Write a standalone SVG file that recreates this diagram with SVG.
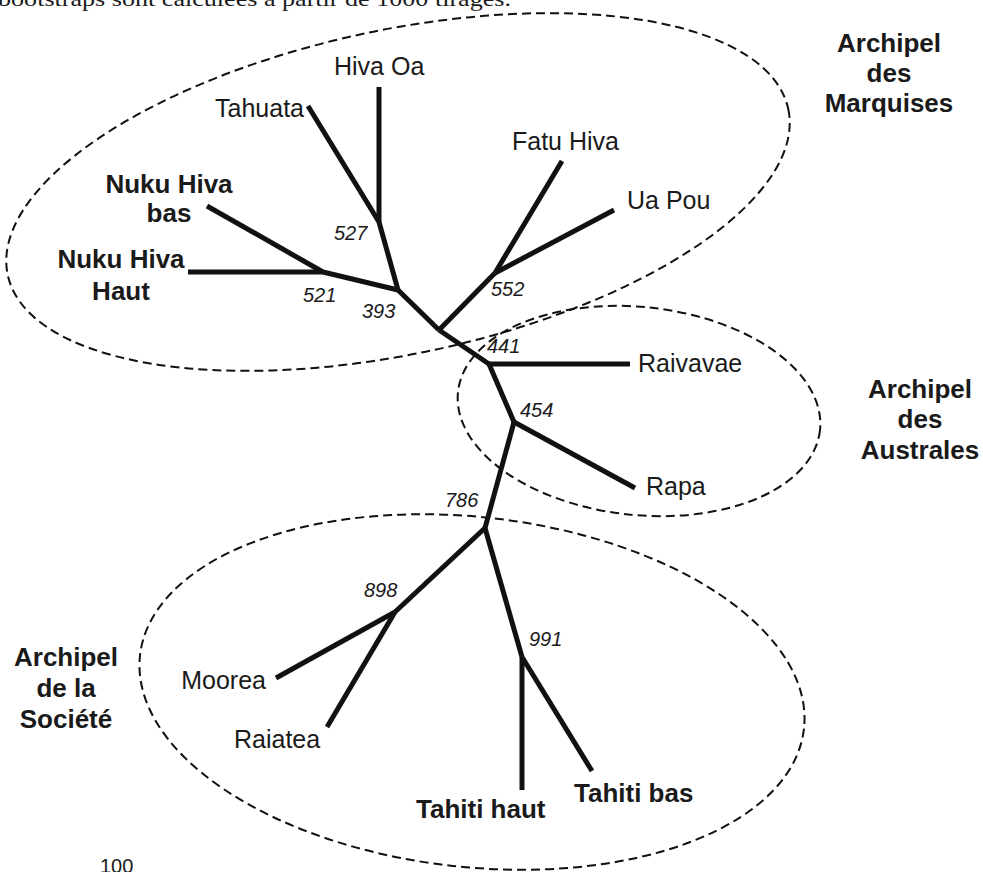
<svg xmlns="http://www.w3.org/2000/svg" width="983" height="872" viewBox="0 0 983 872">
  <style>
    .bg { fill: #ffffff; }
    .branch { stroke: #111111; stroke-width: 5; fill: none; stroke-linecap: butt; stroke-linejoin: round; }
    .clade { stroke: #111111; stroke-width: 2; fill: none; stroke-dasharray: 9 5; }
    .leaf { font-family: "Liberation Sans", Arial, sans-serif; font-size: 25px; fill: #1a1a1a; }
    .leafb { font-family: "Liberation Sans", Arial, sans-serif; font-size: 26px; font-weight: bold; fill: #1a1a1a; }
    .boot { font-family: "Liberation Sans", Arial, sans-serif; font-size: 20px; font-style: italic; fill: #1a1a1a; }
    .title { font-family: "Liberation Sans", Arial, sans-serif; font-size: 26px; font-weight: bold; fill: #1a1a1a; text-anchor: middle; }
    .caption { font-family: "Liberation Serif", "Times New Roman", serif; font-size: 22px; fill: #1a1a1a; }
    .scale { font-family: "Liberation Sans", Arial, sans-serif; font-size: 20px; fill: #1a1a1a; }
  </style>

  <rect class="bg" x="0" y="0" width="983" height="872"/>

  <!-- caption line above the tree (only its lower part falls inside the frame) -->
  <text class="caption" x="-2" y="6" textLength="513" lengthAdjust="spacingAndGlyphs">bootstraps sont calculées à partir de 1000 tirages.</text>

  <!-- clade outlines -->
  <g id="clade-marquises">
    <ellipse class="clade" cx="398" cy="192" rx="399" ry="162" transform="rotate(-12 398 192)"/>
    <text class="title" x="889" y="52">Archipel</text>
    <text class="title" x="889" y="82">des</text>
    <text class="title" x="889" y="112">Marquises</text>
  </g>
  <g id="clade-australes">
    <ellipse class="clade" cx="639" cy="411" rx="182" ry="104" transform="rotate(6 639 411)"/>
    <text class="title" x="920" y="398">Archipel</text>
    <text class="title" x="920" y="428">des</text>
    <text class="title" x="920" y="459">Australes</text>
  </g>
  <g id="clade-societe">
    <ellipse class="clade" cx="472" cy="692" rx="334" ry="175" transform="rotate(6.3 472 692)"/>
    <text class="title" x="66" y="666">Archipel</text>
    <text class="title" x="66" y="697">de la</text>
    <text class="title" x="66" y="728">Société</text>
  </g>

  <!-- branches of the unrooted tree -->
  <g id="branches">
    <path class="branch" d="M379 87 L379 222"/>
    <path class="branch" d="M308 106 L379 222"/>
    <path class="branch" d="M379 222 L398 290"/>
    <path class="branch" d="M207 206 L323 272"/>
    <path class="branch" d="M188 272 L323 272"/>
    <path class="branch" d="M323 272 L398 290"/>
    <path class="branch" d="M398 290 L439 330"/>
    <path class="branch" d="M439 330 L495 273"/>
    <path class="branch" d="M495 273 L562 161"/>
    <path class="branch" d="M495 273 L614 210"/>
    <path class="branch" d="M439 330 L489 364"/>
    <path class="branch" d="M489 364 L630 364"/>
    <path class="branch" d="M489 364 L514 422"/>
    <path class="branch" d="M514 422 L635 488"/>
    <path class="branch" d="M514 422 L485 528"/>
    <path class="branch" d="M485 528 L395 612"/>
    <path class="branch" d="M395 612 L276 678"/>
    <path class="branch" d="M395 612 L327 727"/>
    <path class="branch" d="M485 528 L522 657"/>
    <path class="branch" d="M522 657 L522 790"/>
    <path class="branch" d="M522 657 L592 771"/>
  </g>

  <!-- leaves -->
  <g id="leaf-hiva-oa"><text class="leaf" x="334" y="75">Hiva Oa</text></g>
  <g id="leaf-tahuata"><text class="leaf" x="304" y="117" text-anchor="end">Tahuata</text></g>
  <g id="leaf-nuku-hiva-bas">
    <text class="leafb" x="169" y="193" text-anchor="middle">Nuku Hiva</text>
    <text class="leafb" x="169" y="222" text-anchor="middle">bas</text>
  </g>
  <g id="leaf-nuku-hiva-haut">
    <text class="leafb" x="121" y="268" text-anchor="middle">Nuku Hiva</text>
    <text class="leafb" x="121" y="300" text-anchor="middle">Haut</text>
  </g>
  <g id="leaf-fatu-hiva"><text class="leaf" x="512" y="150">Fatu Hiva</text></g>
  <g id="leaf-ua-pou"><text class="leaf" x="627" y="209">Ua Pou</text></g>
  <g id="leaf-raivavae"><text class="leaf" x="638" y="372">Raivavae</text></g>
  <g id="leaf-rapa"><text class="leaf" x="646" y="495">Rapa</text></g>
  <g id="leaf-moorea"><text class="leaf" x="266" y="689" text-anchor="end">Moorea</text></g>
  <g id="leaf-raiatea"><text class="leaf" x="234" y="748">Raiatea</text></g>
  <g id="leaf-tahiti-haut"><text class="leafb" x="416" y="818">Tahiti haut</text></g>
  <g id="leaf-tahiti-bas"><text class="leafb" x="574" y="802">Tahiti bas</text></g>

  <!-- bootstrap support at internal nodes -->
  <g id="node-527"><text class="boot" x="334" y="240">527</text></g>
  <g id="node-521"><text class="boot" x="303" y="302">521</text></g>
  <g id="node-393"><text class="boot" x="362" y="318">393</text></g>
  <g id="node-552"><text class="boot" x="491" y="296">552</text></g>
  <g id="node-441"><text class="boot" x="487" y="353">441</text></g>
  <g id="node-454"><text class="boot" x="520" y="417">454</text></g>
  <g id="node-786"><text class="boot" x="445" y="507">786</text></g>
  <g id="node-898"><text class="boot" x="364" y="597">898</text></g>
  <g id="node-991"><text class="boot" x="529" y="646">991</text></g>

  <!-- scale label -->
  <g id="scale"><text class="scale" x="100" y="873">100</text></g>
</svg>
